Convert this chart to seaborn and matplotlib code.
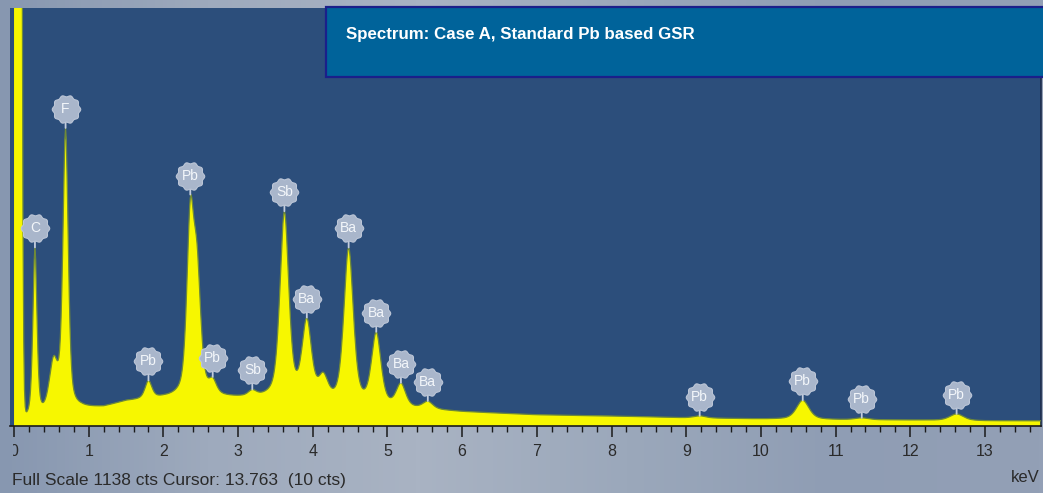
import numpy as np
import pandas as pd
import matplotlib
matplotlib.use("Agg")
import matplotlib.pyplot as plt
import seaborn as sns
from matplotlib.path import Path
from matplotlib.patches import Rectangle
from matplotlib.transforms import Bbox, offset_copy
from matplotlib.colors import LinearSegmentedColormap

# ---------------- spectrum data ----------------
# continuum (bremsstrahlung) level, counts
bg_energy = [0.10, 0.30, 0.50, 0.90, 1.20, 1.50, 2.00, 2.50, 3.00, 3.50, 4.00, 4.50,
             5.00, 5.50, 6.00, 6.50, 7.00, 8.00, 9.00, 10.0, 11.0, 12.0, 13.0, 13.8]
bg_counts = [12, 15, 25, 45, 50, 66, 74, 76, 74, 72, 62, 52,
             48, 44, 38, 34, 30, 27, 22, 19, 17, 16, 14, 14]

# detector zero-energy (noise) peak
zero_peak_energy = 0.04
zero_peak_counts = 20000
zero_peak_fwhm = 0.07

# characteristic X-ray lines: energy (keV), net counts, FWHM (keV)
line_energy = [0.28, 0.53, 0.69, 1.80, 2.36, 2.45, 2.66, 3.19, 3.62, 3.92,
               4.14, 4.48, 4.85, 5.18, 5.54, 9.18, 10.56, 11.35, 12.62]
line_counts = [462, 135, 762, 48, 460, 320, 35, 15, 505, 210,
               60, 424, 195, 62, 20, 6, 52, 5, 18]
line_fwhm = [0.065, 0.14, 0.085, 0.11, 0.11, 0.12, 0.12, 0.13, 0.14, 0.15,
             0.15, 0.15, 0.15, 0.15, 0.16, 0.19, 0.20, 0.21, 0.22]

# element markers
label_text = ["C", "F", "Pb", "Pb", "Pb", "Sb", "Sb", "Ba", "Ba", "Ba",
              "Ba", "Ba", "Pb", "Pb", "Pb", "Pb"]
label_energy = [0.28, 0.69, 1.80, 2.36, 2.66, 3.19, 3.62, 3.92, 4.48, 4.85,
                5.18, 5.54, 9.18, 10.56, 11.35, 12.62]

tick_values = list(range(0, 14))
full_scale = 1138
status_text = "Full Scale 1138 cts Cursor: 13.763  (10 cts)"
title_text = "Spectrum: Case A, Standard Pb based GSR"

# ---------------- build channel counts ----------------
channel_width = 0.01
energy = np.arange(0.0, 13.80, channel_width)
counts = np.interp(energy, bg_energy, bg_counts).astype(float)

sig0 = zero_peak_fwhm / 2.3548
counts += zero_peak_counts * np.exp(-0.5 * ((energy - zero_peak_energy) / sig0) ** 2)

for e0, h, w in zip(line_energy, line_counts, line_fwhm):
    g = np.exp(-4 * np.log(2) * ((energy - e0) / w) ** 2)
    lor = 1.0 / (1.0 + ((energy - e0) / (w / 2)) ** 2)
    counts += h * (0.5 * g + 0.5 * lor)

df = pd.DataFrame({"energy": energy, "counts": counts})

# ---------------- figure ----------------
sns.set_theme(style="white")
plt.rcParams["font.family"] = ["Liberation Sans", "DejaVu Sans"]

W, H = 1043, 493
fig = plt.figure(figsize=(W / 100, H / 100), dpi=100)
fig.patch.set_facecolor("#94a2b7")

# soft grey-blue panel behind the plot
bg_ax = fig.add_axes([0, 0, 1, 1], zorder=-1)
panel_cmap = LinearSegmentedColormap.from_list(
    "panel", ["#8797b0", "#9eaabd", "#a9b3c3", "#9ba8bb", "#8f9db4", "#93a0b6"])
bg_ax.imshow(np.linspace(0, 1, 256)[None, :], aspect="auto", cmap=panel_cmap,
             extent=[0, 1, 0, 1])
bg_ax.set_axis_off()

ax = fig.add_axes([10 / W, (H - 426) / H, (1041 - 10) / W, 418 / H])
ax.set_facecolor("#2c4e7b")

ax.fill_between(df["energy"], 0, df["counts"], color="#f7f700", lw=0, zorder=2)
sns.lineplot(data=df, x="energy", y="counts", ax=ax, color="#6f8a38",
             lw=0.9, zorder=3, estimator=None)

ax.set_xlim(-0.054, 13.75)
ax.set_ylim(0, full_scale)

# element bubbles
theta = np.linspace(0, 2 * np.pi, 121)
rad = 1 + 0.06 * np.cos(10 * theta)
bubble = Path(np.column_stack([rad * np.cos(theta), rad * np.sin(theta)]), closed=True)
lift = 19
for name, e in zip(label_text, label_energy):
    win = (energy > e - 0.03) & (energy < e + 0.03)
    top = counts[win].max()
    ax.annotate("", xy=(e, top), xytext=(0, lift), textcoords="offset pixels",
                arrowprops=dict(arrowstyle="-", color="#c3cddd", lw=1.3,
                                shrinkA=0, shrinkB=0), zorder=4)
    tr = offset_copy(ax.transData, fig=fig, x=0, y=lift, units="dots")
    ax.plot([e], [top], marker=bubble, ms=20.5, mfc="#a9b6cb", mec="#bcc6d7",
            mew=0.8, transform=tr, zorder=5, clip_on=False)
    ax.text(e, top, name, transform=tr, ha="center", va="center",
            fontsize=10, color="#f3f6fa", zorder=6)

# axis styling
for side in ["top", "left"]:
    ax.spines[side].set_visible(False)
ax.spines["right"].set_color("#1c2c4c")
ax.spines["right"].set_linewidth(1.2)
ax.spines["bottom"].set_color("#1a1a1a")
ax.spines["bottom"].set_linewidth(1.2)
ax.set_yticks([])
ax.set_xticks(tick_values)
ax.set_xticks(np.arange(0, 13.8, 0.2), minor=True)
ax.tick_params(axis="x", which="major", direction="out", length=8, width=1.1,
               color="#1a1a1a", labelsize=11.5, labelcolor="#2a2a2a", pad=5,
               bottom=True)
ax.tick_params(axis="x", which="minor", direction="out", length=4, width=1.0,
               color="#1a1a1a", bottom=True)
ax.set_xlabel("")
ax.set_ylabel("")
ax.grid(False)

zero_lbl = ax.get_xticklabels()[0]
zero_lbl.set_clip_box(Bbox.from_extents(12.5, 0, W, H))
zero_lbl.set_clip_on(True)

fig.text(12 / W, 1 - 480 / H, status_text, fontsize=12.5, color="#2a2a2a",
         ha="left", va="center")
fig.text(1040 / W, 1 - 478 / H, "keV", fontsize=12, color="#2a2a2a",
         ha="right", va="center")

# title box
fig.add_artist(Rectangle((326 / W, 1 - 77 / H), (W + 10 - 326) / W, 70 / H,
                         transform=fig.transFigure, facecolor="#00639a",
                         edgecolor="#1b1f8a", lw=1.6, zorder=10))
fig.text(346 / W, 1 - 34 / H, title_text, fontsize=12.2, fontweight="bold",
         color="white", ha="left", va="center", zorder=11)

fig.savefig("out.png", dpi=100)
